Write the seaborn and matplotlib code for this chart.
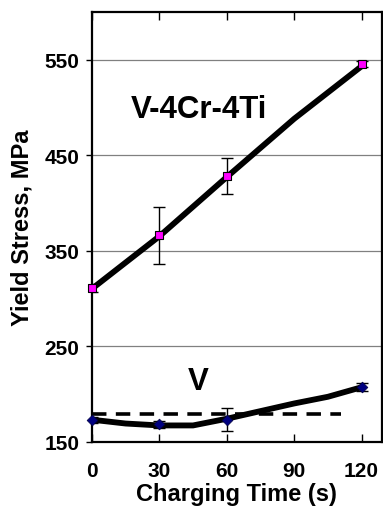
import matplotlib
matplotlib.use("Agg")
import matplotlib.pyplot as plt
import seaborn as sns

# data
time_s = [0, 30, 60, 120]
alloy_ys = [311, 366, 428, 545]
alloy_err = [4, 30, 19, 3]
vanad_ys = [173, 168, 173, 207]
vanad_err = [3, 4, 12, 4]

# hand-drawn trend curves
alloy_trend_t = [0, 30, 60, 90, 120]
alloy_trend_y = [310, 365, 427, 488, 543]
vanad_trend_t = [0, 15, 30, 45, 60, 75, 90, 105, 120]
vanad_trend_y = [173, 169, 167, 167, 174, 182, 190, 197, 207]

# unirradiated reference level (dashed)
ref_t = [0, 111]
ref_y = [179, 179]

sns.set_theme(style="white")
plt.rcParams["font.family"] = ["Liberation Sans", "DejaVu Sans"]
plt.rcParams["font.weight"] = "bold"
plt.rcParams["text.color"] = "black"
plt.rcParams["axes.labelcolor"] = "black"

fig, ax = plt.subplots(figsize=(3.83, 5.10), dpi=100)
fig.subplots_adjust(left=0.240, right=0.997, top=0.975, bottom=0.132)

sns.lineplot(x=ref_t, y=ref_y, ax=ax, color="black", lw=2.6,
             dashes=False, linestyle=(0, (4.0, 2.6)))
sns.lineplot(x=alloy_trend_t, y=alloy_trend_y, ax=ax, color="black", lw=4.2)
sns.lineplot(x=vanad_trend_t, y=vanad_trend_y, ax=ax, color="black", lw=4.2)

ax.errorbar(time_s, alloy_ys, yerr=alloy_err, fmt="none", ecolor="black",
            elinewidth=1, capsize=4, capthick=1, zorder=3)
ax.errorbar(time_s, vanad_ys, yerr=vanad_err, fmt="none", ecolor="black",
            elinewidth=1, capsize=4, capthick=1, zorder=3)
sns.scatterplot(x=time_s, y=alloy_ys, ax=ax, marker="s", s=28, color="#ff00ff",
                edgecolor="black", linewidth=0.8, zorder=4)
sns.scatterplot(x=time_s, y=vanad_ys, ax=ax, marker="D", s=30, color="#000080",
                edgecolor="#000040", linewidth=0.5, zorder=4)
for coll in ax.collections:
    coll.set_clip_on(False)

ax.text(47.5, 498, "V-4Cr-4Ti", ha="center", va="center", fontsize=22.5,
        fontweight="bold", color="black")
ax.text(47.5, 214, "V", ha="center", va="center", fontsize=22.5,
        fontweight="bold", color="black")

ax.set_xlim(0, 129)
ax.set_ylim(150, 600)
ax.set_xticks([0, 30, 60, 90, 120])
ax.set_yticks([150, 250, 350, 450, 550])
ax.yaxis.grid(True, color="#808080", lw=0.9)
ax.set_axisbelow(True)

for s in ax.spines.values():
    s.set_color("black")
    s.set_linewidth(1.6)

ax.tick_params(axis="x", direction="in", length=6, width=1, top=True, bottom=True,
               labelsize=15, pad=14, colors="black")
ax.tick_params(axis="y", direction="out", length=4, width=1, left=True,
               labelsize=15, pad=5, colors="black")

ax.set_xlabel("Charging Time (s)", fontsize=17, fontweight="bold", labelpad=1, color="black")
ax.set_ylabel("Yield Stress, MPa", fontsize=17, fontweight="bold", labelpad=8, color="black")

fig.savefig("out.png", dpi=100)
